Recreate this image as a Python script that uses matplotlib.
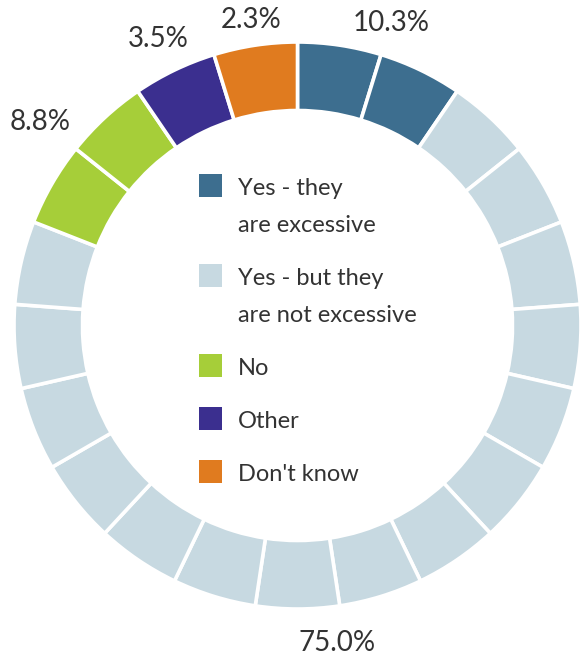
import numpy as np
import matplotlib.pyplot as plt
from matplotlib.patches import Rectangle

# answer categories, clockwise from 12 o'clock
categories = ["Yes - they\nare excessive", "Yes - but they\nare not excessive",
              "No", "Other", "Don't know"]
shares = ["10.3%", "75.0%", "8.8%", "3.5%", "2.3%"]
segments = [2, 15, 2, 1, 1]          # ring blocks per category
colors = ["#3d6e8f", "#c7d9e1", "#a6ce39", "#3b2f8f", "#e07b1f"]

W, H = 581, 657
cx, cy = 297.5, H - 325.5
r_out, r_in = 283.5, 215
text_color = "#333333"
plt.rcParams["font.family"] = ["Lato", "DejaVu Sans"]

fig = plt.figure(figsize=(W / 100, H / 100), dpi=100)
ax = fig.add_axes([0, 0, 1, 1])

block_colors = [c for c, n in zip(colors, segments) for _ in range(n)]
ax.pie(np.ones(sum(segments)), colors=block_colors, startangle=90,
       counterclock=False, center=(cx, cy), radius=r_out,
       wedgeprops=dict(width=r_out - r_in, edgecolor="white", linewidth=2.6))

ax.set_xlim(0, W)
ax.set_ylim(0, H)
ax.set_aspect("equal")
ax.axis("off")

# percentage labels at the middle of each category's arc
total = sum(segments)
start = 0
nudge = [0, 10, 0, 0, 0]          # degrees, pulls the big label toward the bottom
label_r = [319, 318, 329, 320, 311]
for n, txt, d, r_lab in zip(segments, shares, nudge, label_r):
    mid = (start + n / 2) / total * 360 + d
    start += n
    a = np.deg2rad(mid)
    ax.text(cx + r_lab * np.sin(a), cy + r_lab * np.cos(a) - 10, txt,
            ha="center", va="baseline", fontsize=20, color=text_color)

# legend inside the ring
line_gap, row_gap, sq = 37, 53, 23
y = 185.5
for lab, c in zip(categories, colors):
    lines = lab.split("\n")
    ax.add_patch(Rectangle((199, H - y - sq / 2), sq, sq, facecolor=c,
                           edgecolor="none"))
    for i, ln in enumerate(lines):
        ax.text(238, H - (y + 9.5 + i * line_gap), ln, ha="left", va="baseline",
                fontsize=17, color=text_color)
    y += (len(lines) - 1) * line_gap + row_gap

fig.savefig("out.png", dpi=100)
